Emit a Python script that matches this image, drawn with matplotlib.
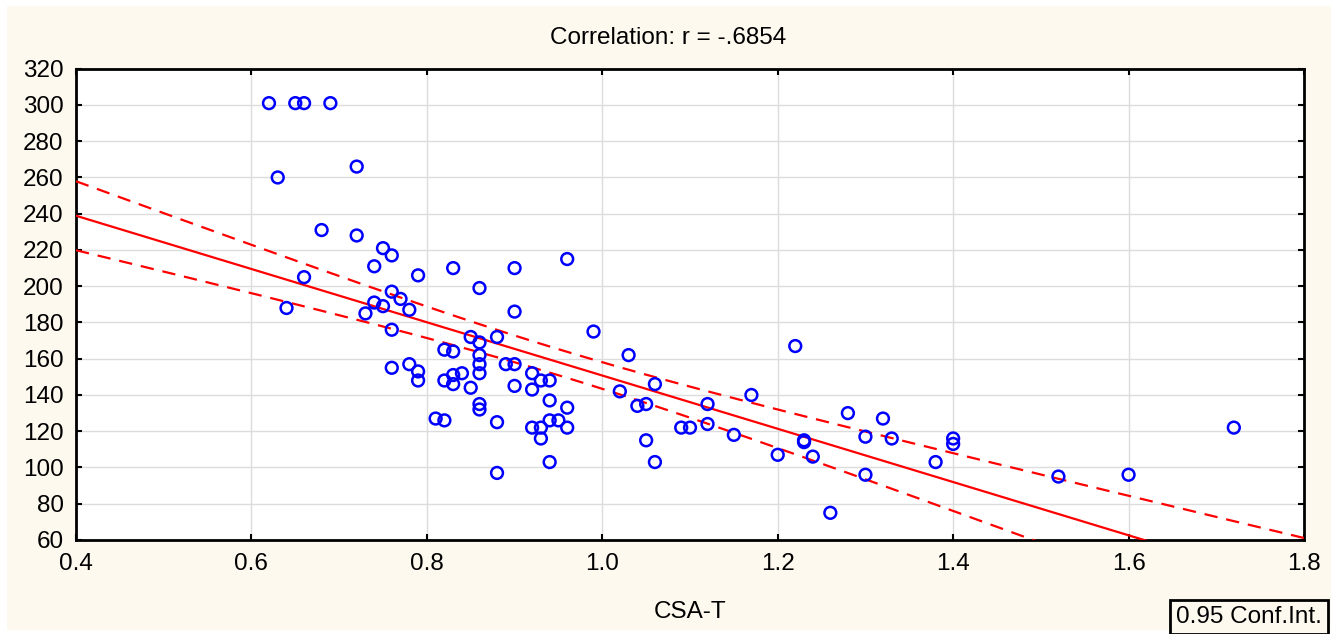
import matplotlib
matplotlib.use("Agg")
import matplotlib.pyplot as plt
import numpy as np
from matplotlib.patches import Rectangle

plt.rcParams['font.family'] = ['Liberation Sans', 'DejaVu Sans']

csa_t = [0.62, 0.65, 0.66, 0.69, 0.72, 0.63, 0.68, 0.72, 0.75, 0.76,
         0.74, 0.79, 0.83, 0.86, 0.90, 0.96, 0.66, 0.64, 0.76, 0.77,
         0.74, 0.75, 0.78, 0.73, 0.90, 0.76, 0.85, 0.86, 0.88, 0.99,
         1.03, 0.82, 0.83, 0.86, 0.86, 0.86, 0.89, 0.90, 0.76, 0.78,
         0.79, 0.79, 0.82, 0.83, 0.84, 0.83, 0.85, 0.92, 0.93, 0.94,
         0.90, 0.92, 0.94, 0.96, 0.86, 0.86, 0.81, 0.82, 0.88, 0.94,
         0.95, 0.92, 0.93, 0.96, 0.93, 0.94, 0.88, 1.22, 1.02, 1.06,
         1.04, 1.05, 1.05, 1.06, 1.09, 1.10, 1.12, 1.12, 1.15, 1.17,
         1.20, 1.23, 1.23, 1.24, 1.26, 1.28, 1.30, 1.30, 1.32, 1.33,
         1.38, 1.40, 1.40, 1.52, 1.60, 1.72]
values = [301, 301, 301, 301, 266, 260, 231, 228, 221, 217,
          211, 206, 210, 199, 210, 215, 205, 188, 197, 193,
          191, 189, 187, 185, 186, 176, 172, 169, 172, 175,
          162, 165, 164, 162, 157, 152, 157, 157, 155, 157,
          153, 148, 148, 151, 152, 146, 144, 152, 148, 148,
          145, 143, 137, 133, 135, 132, 127, 126, 125, 126,
          126, 122, 122, 122, 116, 103, 97, 167, 142, 146,
          134, 135, 115, 103, 122, 122, 135, 124, 118, 140,
          107, 115, 114, 106, 75, 130, 117, 96, 127, 116,
          103, 116, 113, 95, 96, 122]

x_ticks = [0.4, 0.6, 0.8, 1.0, 1.2, 1.4, 1.6, 1.8]
y_ticks = list(range(60, 321, 20))

x = np.array(csa_t)
y = np.array(values)
n = len(x)
slope, intercept = np.polyfit(x, y, 1)
resid = y - (intercept + slope * x)
s = np.sqrt(np.sum(resid ** 2) / (n - 2))
sxx = np.sum((x - x.mean()) ** 2)
t_crit = 1.986  # t(0.975, ~94 df)

xs = np.linspace(0.4, 1.8, 300)
fit = intercept + slope * xs
half = t_crit * s * np.sqrt(1.0 / n + (xs - x.mean()) ** 2 / sxx)

fig = plt.figure(figsize=(13.36, 6.34), dpi=100, facecolor='white')
fig.patches.append(Rectangle((7 / 1336, 4 / 634), 1324 / 1336, 624 / 634,
                             transform=fig.transFigure, facecolor='#fdf9ef',
                             edgecolor='none', zorder=-10))
ax = fig.add_axes([76 / 1336, 1 - 540 / 634, 1228 / 1336, 471.3 / 634])
ax.set_facecolor('white')

ax.plot(xs, fit, color='red', linewidth=1.6, zorder=3)
ax.plot(xs, fit + half, color='red', linewidth=1.6, linestyle=(0, (6, 4)), zorder=3)
ax.plot(xs, fit - half, color='red', linewidth=1.6, linestyle=(0, (6, 4)), zorder=3)
ax.scatter(x, y, s=72, facecolors='none', edgecolors='#0000ff', linewidths=1.8, zorder=4)

ax.set_xlim(0.4, 1.8)
ax.set_ylim(60, 320)
ax.set_xticks(x_ticks)
ax.set_xticklabels(['%.1f' % v for v in x_ticks])
ax.set_yticks(y_ticks)
ax.grid(True, color='#dcdcdc', linewidth=1.0)
ax.set_axisbelow(True)
ax.tick_params(direction='in', length=4, width=1.5, labelsize=17.5,
               top=True, right=True, pad=9)
for sp in ax.spines.values():
    sp.set_linewidth(2)
    sp.set_color('black')

fig.text(0.5, 1 - 38 / 634, 'Correlation: r = -.6854', ha='center', va='center', fontsize=17.5)
fig.text(690 / 1336, 1 - 612 / 634, 'CSA-T', ha='center', va='center', fontsize=17.5)
fig.text(1249 / 1336, 1 - 617 / 634, '0.95 Conf.Int.', ha='center', va='center', fontsize=17.5,
         bbox=dict(boxstyle='square,pad=0.25', facecolor='#fdf9ef', edgecolor='black', linewidth=2))

fig.savefig('out.png', dpi=100, facecolor=fig.get_facecolor())
